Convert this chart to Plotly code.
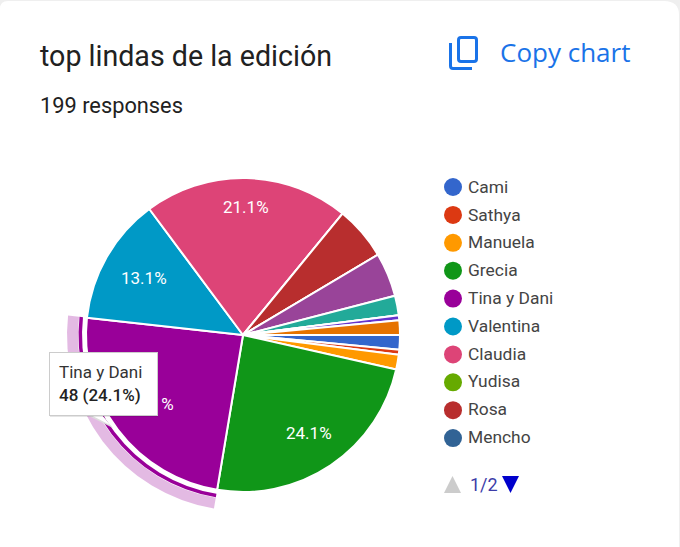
import math

import plotly.graph_objects as go

# slices in drawing order, the ones after Mencho are on the legend's second page
labels = ["Cami", "Sathya", "Manuela", "Grecia", "Tina y Dani", "Valentina", "Claudia",
          "Yudisa", "Rosa", "Mencho", "Otra 1", "Otra 2", "Otra 3", "Otra 4", "Otra 5"]
votes = [3, 1, 3, 48, 48, 26, 42, 0, 11, 0, 9, 4, 0, 1, 3]
colors = ["#3366cc", "#dc3912", "#ff9900", "#109618", "#990099", "#0099c6", "#dd4477",
          "#66aa00", "#b82e2e", "#316395", "#994499", "#22aa99", "#aaaa11", "#6633cc", "#e67300"]
legend_names = labels[:10]
highlighted = "Tina y Dani"

WIDTH = 680
HEIGHT = 547
CX = 243
CY = 335
ROTATION = 90
FONT = "Roboto"

# how far from the centre each percentage sits
label_radius = {"Grecia": 118, "Tina y Dani": 115, "Valentina": 114, "Claudia": 128}


def pie_domain(radius):
    return dict(
        x=[(CX - radius) / WIDTH, (CX + radius) / WIDTH],
        y=[1 - (CY + radius) / HEIGHT, 1 - (CY - radius) / HEIGHT],
    )


def ring(color, outer, inner):
    # only the highlighted slice gets a colour, the rest stay see-through
    ring_colors = [color if n == highlighted else "rgba(0,0,0,0)" for n in labels]
    return go.Pie(
        labels=labels, values=votes, sort=False, direction="clockwise", rotation=ROTATION,
        domain=pie_domain(outer), hole=inner / outer, textinfo="none", hoverinfo="skip",
        marker=dict(colors=ring_colors, line=dict(width=0)), showlegend=False,
    )


fig = go.Figure()

# legend lives on a hidden pixel axis
fig.add_trace(go.Scatter(
    x=[453] * len(legend_names), y=[187 + i * 27.9 for i in range(len(legend_names))],
    mode="markers", hoverinfo="skip",
    marker=dict(size=18, color=colors[:10], line=dict(width=0)),
))
fig.add_trace(go.Scatter(
    x=[468] * len(legend_names), y=[188.5 + i * 27.8 for i in range(len(legend_names))],
    mode="text", text=legend_names, textposition="middle right", hoverinfo="skip",
    textfont=dict(family=FONT, size=17.4, color="#444444"),
))

fig.add_trace(ring("rgba(153,0,153,0.27)", 176, 165))
fig.add_trace(ring("#990099", 164.5, 161))

fig.add_trace(go.Pie(
    labels=labels, values=votes, sort=False, direction="clockwise", rotation=ROTATION,
    domain=pie_domain(157), textinfo="none", hoverinfo="skip", showlegend=False,
    marker=dict(colors=colors, line=dict(color="#ffffff", width=2)),
))

shapes = [
    # card with its rounded top corners
    dict(type="path", path="M0,9 Q0,1 8,1 L664,1 Q679,1 679,15 L679,547 L0,547 Z",
         fillcolor="#ffffff", line_width=0, layer="below"),
    # pager triangles
    dict(type="path", path="M444,493 L452.5,476 L461,493 Z", fillcolor="#cccccc", line_width=0, layer="above"),
    dict(type="path", path="M502,476 L519,476 L510.5,493 Z", fillcolor="#0000cc", line_width=0, layer="above"),
    # tooltip pointer
    dict(type="path", path="M85,414 L113,428 L101,414 Z", fillcolor="#dddddd", line_width=0, layer="above"),
    dict(type="path", path="M87,413 L110,425 L100,413 Z", fillcolor="#ffffff", line_width=0, layer="above"),
    # copy icon
    dict(type="path", path="M450.5,43 L450.5,66 Q450.5,68.5 453,68.5 L472,68.5",
         line=dict(color="#1a73e8", width=3), layer="above"),
    dict(type="path", path="M461,37.5 L474,37.5 Q476.5,37.5 476.5,40 L476.5,59 Q476.5,61.5 474,61.5 "
                           "L461,61.5 Q458.5,61.5 458.5,59 L458.5,40 Q458.5,37.5 461,37.5 Z",
         line=dict(color="#1a73e8", width=3), layer="above"),
]

annotations = [
    dict(x=40, y=56, text="top lindas de la edición", font=dict(family=FONT, size=28.6, color="#212121")),
    dict(x=40, y=105, text="199 responses", font=dict(family=FONT, size=21.8, color="#212121")),
    dict(x=500, y=52, text="Copy chart", font=dict(family="Open Sans", size=26, weight=500, color="#1a73e8")),
    dict(x=470, y=484, text="1/2", font=dict(family=FONT, size=18, color="#3c3ca8")),
]

# percentages, worked out from the votes so they follow the slices
total = sum(votes)
running = 0
for name, v in zip(labels, votes):
    if name in label_radius:
        angle = math.radians(ROTATION + (running + v / 2) / total * 360)
        annotations.append(dict(
            x=CX + label_radius[name] * math.sin(angle),
            y=CY - label_radius[name] * math.cos(angle),
            xanchor="center",
            text=f"{v / total:.1%}",
            font=dict(family=FONT, size=17, color="#ffffff"),
        ))
    running += v

# tooltip goes last so that it covers the label underneath
annotations += [
    dict(x=50, y=353, text=" ", width=108, height=64, yanchor="top", bgcolor="rgba(0,0,0,0.10)",
         font=dict(size=10)),
    dict(x=49, y=352, text=" ", width=107, height=62, yanchor="top", bgcolor="#ffffff",
         bordercolor="#cccccc", borderwidth=1, font=dict(size=10)),
    dict(x=59, y=372, text="Tina y Dani", font=dict(family=FONT, size=17, color="#333333")),
    dict(x=59, y=395, text="48 (24.1%)", font=dict(family=FONT, size=17, weight=500, color="#222222")),
]
for a in annotations:
    a.setdefault("xanchor", "left")
    a.setdefault("yanchor", "middle")
    a.setdefault("borderwidth", 0)
    a.update(xref="x", yref="y", showarrow=False, borderpad=0)

fig.update_layout(
    width=WIDTH,
    height=HEIGHT,
    margin=dict(l=0, r=0, t=0, b=0),
    paper_bgcolor="#efefef",
    plot_bgcolor="rgba(0,0,0,0)",
    showlegend=False,
    xaxis=dict(range=[0, WIDTH], visible=False, domain=[0, 1]),
    yaxis=dict(range=[HEIGHT, 0], visible=False, domain=[0, 1]),
    shapes=shapes,
    annotations=annotations,
)

fig.write_html("out.html", config=dict(displayModeBar=False),
               post_script="document.body.style.margin='0';")
